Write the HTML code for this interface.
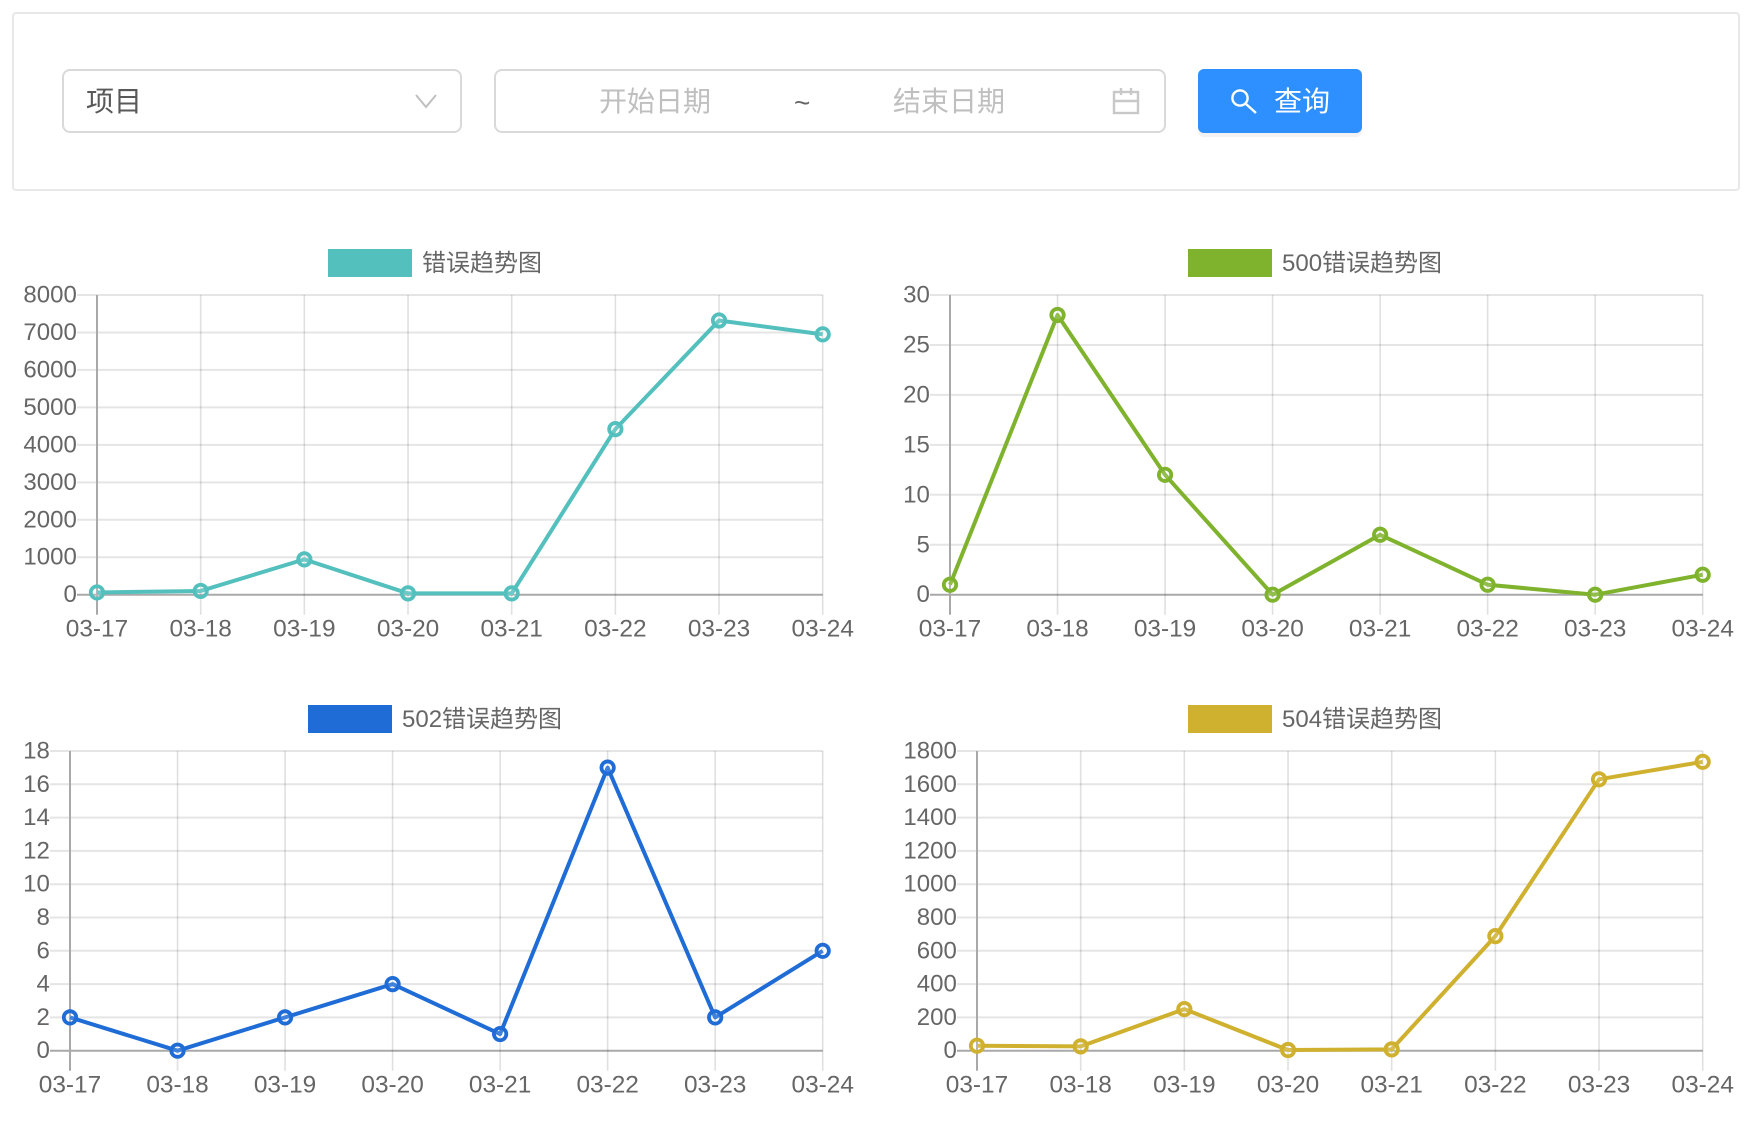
<!DOCTYPE html>
<html lang="zh">
<head>
<meta charset="utf-8">
<title>错误趋势图</title>
<style>
html,body{margin:0;padding:0;background:#fff;width:1760px;height:1126px;overflow:hidden}
body{position:relative;font-family:"Liberation Sans","Noto Sans CJK SC",sans-serif;color:#666}
.abs{position:absolute;box-sizing:border-box}
#frame{left:12px;top:12px;width:1728px;height:179px;border:2px solid #e8e8e8;border-radius:4px}
#select{left:62px;top:69px;width:400px;height:64px;border:2px solid #d9d9d9;border-radius:8px}
#range{left:494px;top:69px;width:672px;height:64px;border:2px solid #d9d9d9;border-radius:8px}
#btn{left:1198px;top:69px;width:164px;height:64px;background:#2e90fe;border-radius:6px;box-shadow:0 4px 0 #f2f2f2}
.t{position:absolute;font-size:28px;line-height:40px;height:40px;white-space:nowrap}
svg{position:absolute;left:0;top:0}
svg text{font-family:"Liberation Sans","Noto Sans CJK SC",sans-serif;fill:#666;font-size:24px}
</style>
</head>
<body>
<div class="abs" id="frame"></div>
<div class="abs" id="select"></div>
<div class="t" style="left:86px;top:82px;color:#595959">项目</div>
<div class="abs" id="range"></div>
<div class="t" style="left:599px;top:82px;color:#bfbfbf">开始日期</div>
<div class="t" style="left:794px;top:83px;color:#666">~</div>
<div class="t" style="left:893px;top:82px;color:#bfbfbf">结束日期</div>
<div class="abs" id="btn"></div>
<div class="t" style="left:1274px;top:82px;color:#fff">查询</div>

<svg id="stage" width="1760" height="1126" viewBox="0 0 1760 1126" xmlns="http://www.w3.org/2000/svg">
  <polyline points="416,95 426,107 436,95" fill="none" stroke="#bfbfbf" stroke-width="2"/>
  <g fill="none" stroke="#c8c8c8" stroke-width="2.4">
    <rect x="1114" y="92" width="24" height="21"/>
    <line x1="1114" y1="101" x2="1138" y2="101"/>
    <line x1="1121" y1="88" x2="1121" y2="95"/>
    <line x1="1131" y1="88" x2="1131" y2="95"/>
  </g>
  <g fill="none" stroke="#fff" stroke-width="2.4">
    <circle cx="1240" cy="98" r="7.6"/>
    <line x1="1246" y1="104" x2="1256" y2="113"/>
  </g>
</svg>

<script>
const categories = ['03-17','03-18','03-19','03-20','03-21','03-22','03-23','03-24'];

const errorValues = [60, 100, 943, 35, 35, 4420, 7320, 6950];
const error500Values = [1, 28, 12, 0, 6, 1, 0, 2];
const error502Values = [2, 0, 2, 4, 1, 17, 2, 6];
const error504Values = [30, 26, 250, 4, 8, 688, 1630, 1735];

const errorTicks = [0, 1000, 2000, 3000, 4000, 5000, 6000, 7000, 8000];
const error500Ticks = [0, 5, 10, 15, 20, 25, 30];
const error502Ticks = [0, 2, 4, 6, 8, 10, 12, 14, 16, 18];
const error504Ticks = [0, 200, 400, 600, 800, 1000, 1200, 1400, 1600, 1800];

const NS = 'http://www.w3.org/2000/svg';
const stage = document.getElementById('stage');

function make(parent, tag, attrs, text) {
  const el = document.createElementNS(NS, tag);
  for (const k in attrs) el.setAttribute(k, attrs[k]);
  if (text !== undefined) el.textContent = text;
  parent.appendChild(el);
  return el;
}

function drawChart(slug, title, color, values, ticks, box) {
  const maxV = ticks[ticks.length - 1];
  const minV = ticks[0];
  const xScale = i => box.left + i * (box.right - box.left) / (categories.length - 1);
  const yScale = v => box.bottom - (v - minV) * (box.bottom - box.top) / (maxV - minV);

  const g = make(stage, 'g', {});
  
  

  const swatch = make(g, 'rect', {x: box.legendX, y: box.top - 46, width: 84, height: 28, fill: color});
  
  
  const legend = make(g, 'text', {x: box.legendX + 94, y: box.top - 31.5, 'dominant-baseline': 'central'}, title);
  
  

  ticks.forEach(function (t) {
    const y = yScale(t);
    const line = make(g, 'line', {x1: box.left - 20, x2: box.right, y1: y, y2: y,
      stroke: t === 0 ? '#a9a9a9' : '#e5e5e5', 'stroke-width': 2});
    
    
    const label = make(g, 'text', {x: box.left - 20.2, y: y, 'text-anchor': 'end', 'dominant-baseline': 'central'}, String(t));
    
    
  });

  categories.forEach(function (c, i) {
    const x = xScale(i);
    const line = make(g, 'line', {x1: x, x2: x, y1: box.top, y2: box.bottom + 20,
      stroke: i === 0 ? '#a9a9a9' : 'rgba(0,0,0,0.12)', 'stroke-width': i === 0 ? 2 : 1.6});
    
    
    const label = make(g, 'text', {x: x, y: box.bottom + 34.5, 'text-anchor': 'middle', 'dominant-baseline': 'central', style: 'font-size:24.4px'}, c);
    
    
  });

  const pts = values.map((v, i) => xScale(i) + ',' + yScale(v)).join(' ');
  const series = make(g, 'polyline', {points: pts, fill: 'none', stroke: color, 'stroke-width': 4, 'stroke-linejoin': 'round'});
  
  

  values.forEach(function (v, i) {
    const dot = make(g, 'circle', {cx: xScale(i), cy: yScale(v), r: 6.2, fill: 'rgba(255,255,255,0.15)', stroke: color, 'stroke-width': 3.8});
    
    
  });
}

drawChart('all-errors', '错误趋势图', '#53c0be', errorValues, errorTicks,
  {left: 97, right: 822.7, top: 295, bottom: 594.7, legendX: 328});
drawChart('error-500', '500错误趋势图', '#7fb32e', error500Values, error500Ticks,
  {left: 950, right: 1702.7, top: 295, bottom: 594.7, legendX: 1188});
drawChart('error-502', '502错误趋势图', '#1f6cd6', error502Values, error502Ticks,
  {left: 70, right: 822.7, top: 751, bottom: 1050.7, legendX: 308});
drawChart('error-504', '504错误趋势图', '#cfb12f', error504Values, error504Ticks,
  {left: 977, right: 1702.7, top: 751, bottom: 1050.7, legendX: 1188});
</script>
</body>
</html>
